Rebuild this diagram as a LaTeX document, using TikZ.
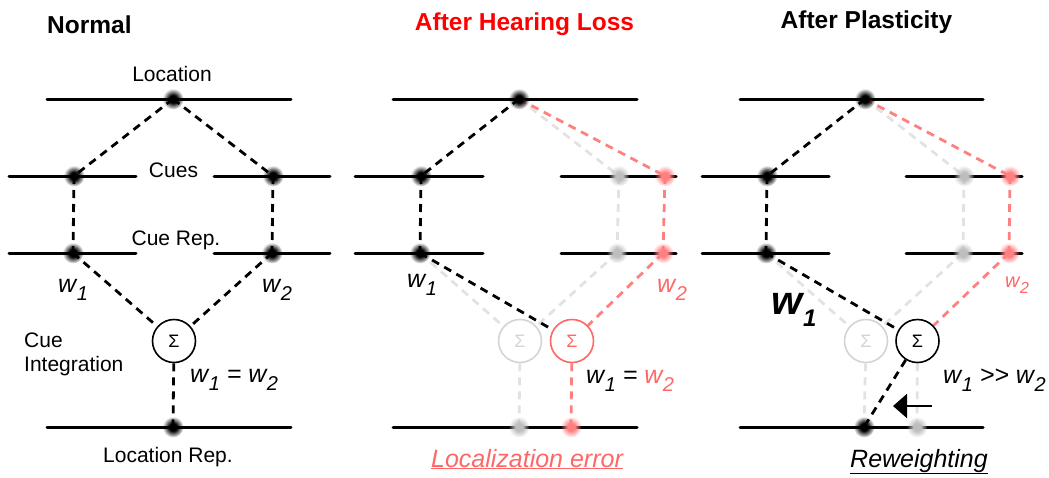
\documentclass[tikz,border=0pt]{standalone}
\usepackage{fontspec}
\setmainfont{Liberation Sans}
\usetikzlibrary{fadings,arrows.meta}
\definecolor{lred}{HTML}{FF8080}
\definecolor{tred}{HTML}{FF6666}
\definecolor{lgray}{HTML}{E2E2E2}
\definecolor{dgray}{HTML}{BEBEBE}
\definecolor{cgray}{HTML}{D4D4D4}
\pgfdeclareradialshading{dotshade}{\pgfpointorigin}{color(0bp)=(pgftransparent!0); color(9bp)=(pgftransparent!0); color(25bp)=(pgftransparent!100); color(50bp)=(pgftransparent!100)}
\pgfdeclarefading{dotfade}{\pgfuseshading{dotshade}}
\pgfdeclarelayer{bg}
\pgfsetlayers{bg,main}
\newcommand\wsym[3]{w\kern0.02em\raisebox{-#3}{\fontsize{#2}{#2}\selectfont #1}}
\begin{document}
\begin{tikzpicture}[x=1pt,y=-1pt,
  solidl/.style={line width=3pt, line cap=round},
  dsh/.style={line width=2.8pt, dash pattern=on 8pt off 6pt},
  dotn/.style={circle, inner sep=0pt, minimum size=21pt, fill=#1, path fading=dotfade},
  sig/.style={circle, draw=#1, text=#1, fill=white, line width=1.6pt, minimum size=43pt, inner sep=0pt, font=\fontsize{18}{18}\selectfont},
  lab/.style={anchor=base, font=\fontsize{21}{24}\selectfont, inner sep=0pt},
  ttl/.style={anchor=base, font=\bfseries\fontsize{24.5}{28}\selectfont, inner sep=0pt},
  wl/.style={anchor=base west, font=\itshape\fontsize{25}{28}\selectfont, inner sep=0pt},
  emph/.style={anchor=base, font=\itshape\fontsize{25}{28}\selectfont, inner sep=0pt}]
\useasboundingbox (0,0) rectangle (1049,477);

% ---------- titles ----------
\node[ttl, anchor=base west] (t1) at (47,33) {Normal};
\node[ttl, text=red] (t2) at (524.5,30) {After Hearing Loss};
\node[ttl] (t3) at (866.5,28) {After Plasticity};

% ---------- panel 1 ----------
\node[lab] (loc) at (172,81) {Location};
\node[lab] (cues) at (173.5,177) {Cues};
\node[lab] (cuerep) at (176,245) {Cue Rep.};
\node[lab] (locrep) at (168,462) {Location Rep.};
\node[lab, anchor=base west] (ci1) at (24,347) {Cue};
\node[lab, anchor=base west] (ci2) at (24,371) {Integration};
\node[dotn=black] (a1) at (173,99) {};
\node[dotn=black] (a2) at (74,176) {};
\node[dotn=black] (a3) at (273,176) {};
\node[dotn=black] (a4) at (73,253) {};
\node[dotn=black] (a5) at (272,253) {};
\node[sig=black] (a6) at (174,341) {Σ};
\node[dotn=black] (a7) at (173,427) {};
\node[wl] (aw1) at (58,292) {\wsym{1}{20}{8pt}};
\node[wl] (aw2) at (262,292) {\wsym{2}{20}{8pt}};
\node[wl] (aeq) at (190,382) {\wsym{1}{20}{8pt} = \wsym{2}{20}{8pt}};
\begin{pgfonlayer}{bg}
\draw[solidl] (47,99) -- (291,99);
\draw[solidl] (9,176) -- (136,176);
\draw[solidl] (214,176) -- (330,176);
\draw[solidl] (9,253) -- (136,253);
\draw[solidl] (214,253) -- (330,253);
\draw[solidl] (47,427) -- (291,427);
\draw[dsh] (a1.center) -- (a2.center);
\draw[dsh] (a1.center) -- (a3.center);
\draw[dsh] (a2.center) -- (a4.center);
\draw[dsh] (a3.center) -- (a5.center);
\draw[dsh] (a4.center) -- (a6);
\draw[dsh] (a5.center) -- (a6);
\draw[dsh] (a6) -- (a7.center);
\end{pgfonlayer}

% ---------- panel 2 ----------
\begin{scope}[shift={(346,0)}]
\node[dotn=black] (b1) at (173,99) {};
\node[dotn=black] (b2) at (75,176) {};
\node[dotn=dgray] (b3g) at (273,176) {};
\node[dotn=lred] (b3r) at (319,176) {};
\node[dotn=black] (b4) at (74,253) {};
\node[dotn=dgray] (b5g) at (271,253) {};
\node[dotn=lred] (b5r) at (317,253) {};
\node[sig=cgray] (b6g) at (174,341) {Σ};
\node[sig=tred] (b6r) at (226,341) {Σ};
\node[dotn=dgray] (b7g) at (173,427) {};
\node[dotn=lred] (b7r) at (225,427) {};
\node[wl] (bw1) at (61,287) {\wsym{1}{20}{8pt}};
\node[wl, text=tred] (bw2) at (311,292) {\wsym{2}{20}{8pt}};
\node[wl] (beq) at (240,383) {\wsym{1}{20}{8pt} = \textcolor{tred}{\wsym{2}{20}{8pt}}};
\node[emph, text=tred] (lerr) at (181,467) {\underline{Localization error}};
\begin{pgfonlayer}{bg}
\draw[solidl] (47,99) -- (291,99);
\draw[solidl] (9,176) -- (137,176);
\draw[solidl] (215,176) -- (330,176);
\draw[solidl] (9,253) -- (137,253);
\draw[solidl] (215,253) -- (330,253);
\draw[solidl] (47,427) -- (291,427);
\draw[dsh, lgray] (b1.center) -- (b3g.center);
\draw[dsh, lgray] (b3g.center) -- (b5g.center);
\draw[dsh, lgray] (b4.center) -- (b6g);
\draw[dsh, lgray] (b5g.center) -- (b6g);
\draw[dsh, lgray] (b6g) -- (b7g.center);
\draw[dsh, lred] (b1.center) -- (b3r.center);
\draw[dsh, lred] (b3r.center) -- (b5r.center);
\draw[dsh, lred] (b5r.center) -- (b6r);
\draw[dsh, lred] (b6r) -- (b7r.center);
\draw[dsh] (b1.center) -- (b2.center);
\draw[dsh] (b2.center) -- (b4.center);
\draw[dsh] (b4.center) -- (b6r);
\end{pgfonlayer}
\end{scope}

% ---------- panel 3 ----------
\begin{scope}[shift={(692,0)}]
\node[dotn=black] (c1) at (173,99) {};
\node[dotn=black] (c2) at (75,176) {};
\node[dotn=dgray] (c3g) at (272,176) {};
\node[dotn=lred] (c3r) at (318,176) {};
\node[dotn=black] (c4) at (74,253) {};
\node[dotn=dgray] (c5g) at (271,253) {};
\node[dotn=lred] (c5r) at (317,253) {};
\node[sig=cgray] (c6g) at (174,341) {Σ};
\node[sig=black] (c6) at (225.5,341) {Σ};
\node[dotn=black] (c7) at (172,427) {};
\node[dotn=dgray] (c7g) at (225,427) {};
\node[anchor=base west, inner sep=0pt, font=\bfseries\itshape\fontsize{40}{42}\selectfont] (cw1) at (79,314) {w\kern0.02em\raisebox{-12pt}{\fontsize{24}{24}\selectfont 1}};
\node[anchor=base west, inner sep=0pt, text=tred, font=\itshape\fontsize{20}{22}\selectfont] (cw2) at (313,287) {\wsym{2}{16}{6pt}};
\node[wl] (ceq) at (251,383) {\wsym{1}{20}{8pt} >{}> \wsym{2}{20}{8pt}};
\node[emph] (rew) at (227,467) {\underline{Reweighting}};
\coordinate (arS) at (240,406);
\coordinate (arE) at (201,406);
\draw[line width=2pt, -{Triangle[length=14pt,width=24pt]}] (arS) -- (arE);
\begin{pgfonlayer}{bg}
\draw[solidl] (48,99) -- (291,99);
\draw[solidl] (10,176) -- (137,176);
\draw[solidl] (214,176) -- (330,176);
\draw[solidl] (10,253) -- (137,253);
\draw[solidl] (214,253) -- (330,253);
\draw[solidl] (48,427) -- (291,427);
\draw[dsh, lgray] (c1.center) -- (c3g.center);
\draw[dsh, lgray] (c3g.center) -- (c5g.center);
\draw[dsh, lgray] (c4.center) -- (c6g);
\draw[dsh, lgray] (c5g.center) -- (c6g);
\draw[dsh, lgray] (c6g) -- (c7.center);
\draw[dsh, lgray] (c6) -- (c7g.center);
\draw[dsh, lred] (c1.center) -- (c3r.center);
\draw[dsh, lred] (c3r.center) -- (c5r.center);
\draw[dsh, lred] (c5r.center) -- (c6);
\draw[dsh] (c1.center) -- (c2.center);
\draw[dsh] (c2.center) -- (c4.center);
\draw[dsh] (c4.center) -- (c6);
\draw[dsh] (c6) -- (c7.center);
\end{pgfonlayer}
\end{scope}
\end{tikzpicture}
\end{document}
